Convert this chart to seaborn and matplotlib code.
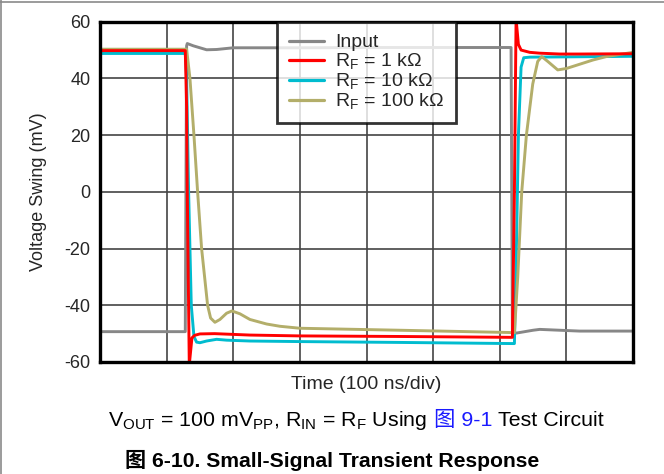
import matplotlib
matplotlib.use("Agg")
import matplotlib.pyplot as plt
import seaborn as sns
import pandas as pd
from matplotlib.lines import Line2D

# ---------------- data ----------------
# time in ns (100 ns/div, 8 divisions), voltage in mV
input_t = [0, 128, 130, 131, 140, 160, 175, 200, 300, 400, 500, 617, 619, 625, 650, 660, 690, 720, 800]
input_v = [-49.3, -49.3, 51.5, 52.3, 51.5, 50.1, 50.2, 50.8, 50.8, 50.9, 50.9, 50.9, -49.5, -49.8, -48.8, -48.5, -48.8, -49.1, -49.1]

rf1k_t = [0, 128, 130, 131, 134, 138, 142, 150, 172, 225, 300, 450, 615, 619, 622, 624.5, 628, 632, 645, 660, 690, 720, 800]
rf1k_v = [49.8, 49.8, 30, 0, -61, -51.5, -50.6, -50.1, -50.0, -50.5, -50.8, -51.0, -51.3, -51.3, 0, 61, 52, 50.0, 49.2, 48.9, 48.6, 48.6, 48.7]

rf10k_t = [0, 128, 130, 133, 137, 141, 145, 150, 160, 175, 190, 225, 300, 450, 620, 622, 625, 628, 632, 636, 645, 700, 800]
rf10k_v = [48.8, 48.8, 40, 0, -40, -51, -53.0, -53.2, -52.6, -52.0, -52.3, -52.6, -52.8, -53.1, -53.5, -53.5, -20, 20, 44, 47.3, 47.5, 47.6, 47.8]

rf100k_t = [0, 130, 135, 141, 146.5, 152.5, 161.5, 166, 172.5, 180, 190, 198, 210, 225, 250, 270, 300, 450, 615, 622,
            627, 633, 640, 649.5, 657, 663, 672, 687, 700, 720, 740, 760, 800]
rf100k_v = [50.3, 50.3, 40, 20, 0, -20, -40, -44.5, -46.0, -45.0, -42.8, -42.0, -43.0, -45.0, -46.6, -47.4, -48.1, -48.8, -49.6, -49.7,
            -30, 0, 20, 38, 46, 47.7, 46, 43, 43.5, 45, 46.5, 47.7, 49.2]

series_names = ["Input", r"R$_\mathregular{F}$ = 1 k$\Omega$", r"R$_\mathregular{F}$ = 10 k$\Omega$", r"R$_\mathregular{F}$ = 100 k$\Omega$"]
series_colors = ["#878787", "#FF0000", "#00BCCF", "#B3AE6A"]
yticks = [-60, -40, -20, 0, 20, 40, 60]
xticks = [0, 100, 200, 300, 400, 500, 600, 700, 800]

# ---------------- style ----------------
sns.set_style("white")
plt.rcParams["font.family"] = ["Liberation Sans", "Noto Sans CJK SC", "DejaVu Sans"]
plt.rcParams["mathtext.fontset"] = "custom"
plt.rcParams["mathtext.rm"] = "Liberation Sans"
plt.rcParams["mathtext.it"] = "Liberation Sans:italic"
plt.rcParams["mathtext.bf"] = "Liberation Sans:bold"

W, H = 664, 474
fig = plt.figure(figsize=(W / 100, H / 100), dpi=100)
ax_l, ax_r, ax_t, ax_b = 100, 633, 21.7, 362
ax = fig.add_axes([ax_l / W, 1 - ax_b / H, (ax_r - ax_l) / W, (ax_b - ax_t) / H])

data = [(input_t, input_v), (rf1k_t, rf1k_v), (rf10k_t, rf10k_v), (rf100k_t, rf100k_v)]
zorders = [3, 6, 4, 5]
for (t, v), name, c, z in zip(data, series_names, series_colors, zorders):
    df = pd.DataFrame({"t": t, "v": v})
    sns.lineplot(data=df, x="t", y="v", ax=ax, color=c, lw=2.1, sort=False,
                 estimator=None, label=name, zorder=z)

ax.set_xlim(0, 800)
ax.set_ylim(-60, 60)
ax.set_xticks(xticks)
ax.set_yticks(yticks)
ax.set_xticklabels([])
ax.set_yticklabels([str(v) for v in yticks], fontsize=13)
ax.tick_params(axis="both", length=0, pad=7)
ax.grid(True, color="#444444", lw=1.2)
for s in ax.spines.values():
    s.set_color("black")
    s.set_linewidth(2.4)
    s.set_zorder(10)

ax.set_xlabel("Time (100 ns/div)", fontsize=14, va="top")
ax.xaxis.set_label_coords(0.5, -0.04)
ax.set_ylabel("Voltage Swing (mV)", fontsize=13)
ax.yaxis.set_label_coords(-0.1, 0.5)

leg = ax.legend(loc="upper left", bbox_to_anchor=(0.3327, 1.0), fontsize=14,
                frameon=True, fancybox=False, handlelength=1.8, handletextpad=0.55,
                labelspacing=0.0, borderpad=0.62, borderaxespad=0)
leg.get_frame().set_edgecolor("black")
leg.get_frame().set_linewidth(2.0)
leg.set_zorder(20)
for h in leg.get_lines():
    h.set_linewidth(2.3)

# ---------------- captions ----------------
fig.canvas.draw()
renderer = fig.canvas.get_renderer()
cap_y = 1 - 426 / H
pieces = [(r"V$_\mathregular{OUT}$ = 100 mV$_\mathregular{PP}$, R$_\mathregular{IN}$ = R$_\mathregular{F}$ Using", "black"),
          ("图 9-1", "#1a1aff"),
          ("Test Circuit", "black")]
texts = []
x = 0
space = 6.0
for s, c in pieces:
    tt = fig.text(x / W, cap_y, s, fontsize=15.4, color=c, ha="left", va="baseline")
    fig.canvas.draw()
    bb = tt.get_window_extent(renderer)
    texts.append(tt)
    x = bb.x1 + space
total = x - space
shift = 356 - total / 2
for tt in texts:
    px, py = tt.get_position()
    tt.set_position((px + shift / W, py))

fig.text(332.5 / W, 1 - 467 / H, "图 6-10. Small-Signal Transient Response", fontsize=15.2,
         fontweight="bold", ha="center", va="baseline", color="black")

# document border (left and top)
fig.add_artist(Line2D([1 / W, 1 / W], [0, 1], color="#8a8a8a", lw=1.2))
fig.add_artist(Line2D([0, 1], [1 - 2 / H, 1 - 2 / H], color="#8a8a8a", lw=1.2))

fig.savefig("out.png", dpi=100)
